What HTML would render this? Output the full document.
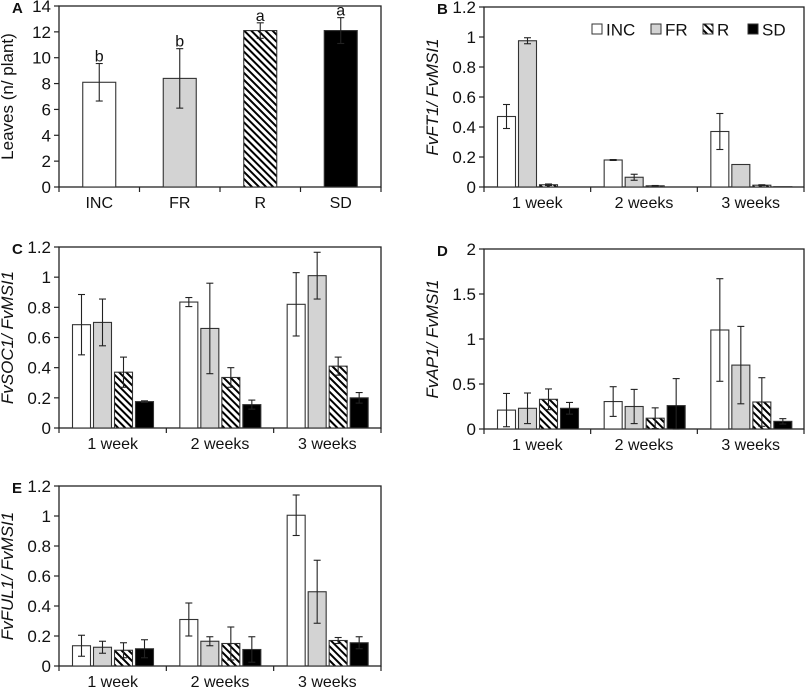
<!DOCTYPE html>
<html><head><meta charset="utf-8"><style>
body{margin:0;background:#fff}
svg{display:block;font-family:"Liberation Sans",sans-serif}
</style></head><body>
<svg id="fig" width="808" height="688" viewBox="0 0 808 688">
<defs>
<pattern id="hatch" patternUnits="userSpaceOnUse" width="5" height="5" patternTransform="rotate(-45)">
<rect width="5" height="5" fill="#fff"/><rect x="0" y="0" width="2" height="5" fill="#000"/>
</pattern>
</defs>
</svg>
<script>
// Panel A
const catsA = ["INC","FR","R","SD"];
const valsA = [8.1, 8.4, 12.1, 12.1];
const errA = [1.45, 2.3, 0.6, 1.0];
const lettersA = ["b","b","a","a"];
const ticksA = [0,2,4,6,8,10,12,14];
// grouped panels
const groups = ["1 week","2 weeks","3 weeks"];
const series = ["INC","FR","R","SD"];
const valsB = [[0.47,0.975,0.015,0],[0.18,0.065,0.008,0],[0.37,0.15,0.012,0.002]];
const errB = [[0.08,0.02,0.005,0],[0.003,0.02,0.002,0],[0.12,0,0.003,0]];
const valsC = [[0.685,0.70,0.37,0.175],[0.835,0.66,0.335,0.155],[0.82,1.01,0.41,0.2]];
const errC = [[0.2,0.155,0.1,0.005],[0.03,0.3,0.065,0.03],[0.21,0.155,0.06,0.035]];
const valsD = [[0.21,0.23,0.33,0.23],[0.305,0.25,0.12,0.26],[1.1,0.71,0.30,0.085]];
const errD = [[0.185,0.17,0.115,0.065],[0.165,0.19,0.115,0.3],[0.57,0.43,0.27,0.03]];
const valsE = [[0.135,0.125,0.105,0.115],[0.31,0.165,0.15,0.11],[1.005,0.495,0.17,0.155]];
const errE = [[0.07,0.04,0.05,0.06],[0.11,0.03,0.11,0.085],[0.135,0.21,0.02,0.04]];
const ticks12 = [0,0.2,0.4,0.6,0.8,1,1.2];
const ticksD = [0,0.5,1,1.5,2];

const NS="http://www.w3.org/2000/svg";
const svg=document.getElementById('fig');
const fills=["#fff","#d3d3d3","url(#hatch)","#000"];
function mk(tag,attrs,parent){const e=document.createElementNS(NS,tag);for(const k in attrs)e.setAttribute(k,attrs[k]);(parent||svg).appendChild(e);return e;}
function txt(s,attrs,parent){const e=mk('text',attrs,parent);e.textContent=s;return e;}

function axes(g,x0,x1,y0,y1,ticks,ymax,ncat,catLabels,ylab,italic,letter){
  const ys=v=>y1-(v/ymax)*(y1-y0);
  const frame=mk('rect',{x:x0,y:y0,width:x1-x0,height:y1-y0,fill:'none',stroke:'#222','stroke-width':1.3},g);
  
  ticks.forEach(t=>{
    mk('line',{x1:x0-5,x2:x0,y1:ys(t),y2:ys(t),stroke:'#222','stroke-width':1.2},g);
    const l=txt(String(t),{x:x0-8,y:ys(t)+6,'text-anchor':'end','font-size':17,fill:'#111'},g);
    
  });
  const cw=(x1-x0)/ncat;
  for(let i=0;i<=ncat;i++) mk('line',{x1:x0+i*cw,x2:x0+i*cw,y1:y1,y2:y1+5,stroke:'#222','stroke-width':1.2},g);
  catLabels.forEach((c,i)=>{
    const l=txt(c,{x:x0+(i+0.5)*cw,y:y1+21,'text-anchor':'middle','font-size':16,fill:'#111'},g);
    
  });
  const cy=(y0+y1)/2, cx=x0-46;
  const yl=txt(ylab,{x:cx,y:cy,transform:`rotate(-90 ${cx} ${cy})`,'text-anchor':'middle','font-size':17,'font-style':italic?'italic':'normal',fill:'#111'},g);
  
  const lt=txt(letter,{x:x0-47,y:y0+7,'font-size':15,'font-weight':'bold',fill:'#111'},g);
  
  return ys;
}
function bar(g,x,w,v,e,ys,fill,name){
  const r=mk('rect',{x:x,y:ys(v),width:w,height:ys(0)-ys(v),fill:fill,stroke:'#333','stroke-width':1.1},g);
  
  if(e>0){
    const cx=x+w/2;
    const eg=mk('g',{stroke:'#222','stroke-width':1.1},g);
    
    mk('line',{x1:cx,x2:cx,y1:ys(v+e),y2:ys(Math.max(0,v-e))},eg);
    mk('line',{x1:cx-3.5,x2:cx+3.5,y1:ys(v+e),y2:ys(v+e)},eg);
    mk('line',{x1:cx-3.5,x2:cx+3.5,y1:ys(Math.max(0,v-e)),y2:ys(Math.max(0,v-e))},eg);
  }
}
// Panel A
(function(){
  const g=mk('g',{});
  const x0=59,x1=381,y0=6,y1=187;
  const ys=axes(g,x0,x1,y0,y1,ticksA,14,4,catsA,'Leaves (n/ plant)',false,'A');
  const cw=(x1-x0)/4;
  valsA.forEach((v,i)=>{
    const bx=x0+i*cw+(cw-33)/2;
    bar(g,bx,33,v,errA[i],ys,fills[i],'bar-'+catsA[i].toLowerCase());
    const l=txt(lettersA[i],{x:bx+16.5,y:ys(v+errA[i])-2,'text-anchor':'middle','font-size':16,fill:'#111'},g);
    
  });
})();
function grouped(name,x0,x1,y0,y1,ticks,ymax,vals,errs,ylab,letter){
  const g=mk('g',{});
  const ys=axes(g,x0,x1,y0,y1,ticks,ymax,3,groups,ylab,true,letter);
  const cw=(x1-x0)/3;
  vals.forEach((grp,gi)=>grp.forEach((v,si)=>{
    const bx=x0+gi*cw+13.5+si*21;
    bar(g,bx,18,v,errs[gi][si],ys,fills[si],'bar-'+series[si].toLowerCase()+'-week'+(gi+1));
  }));
  return g;
}
const gB=grouped('panel-b-fvft1',484,804,7,187,ticks12,1.2,valsB,errB,'FvFT1/ FvMSI1','B');
grouped('panel-c-fvsoc1',59,381,247,428,ticks12,1.2,valsC,errC,'FvSOC1/ FvMSI1','C');
grouped('panel-d-fvap1',484,804,249,429,ticksD,2,valsD,errD,'FvAP1/  FvMSI1','D');
grouped('panel-e-fvful1',59,381,486,666,ticks12,1.2,valsE,errE,'FvFUL1/ FvMSI1','E');
// legend
(function(){
  const lg=mk('g',{},gB);
  const lx=[592,651,703,748];
  series.forEach((s,i)=>{
    const eg=mk('g',{},lg);
    mk('rect',{x:lx[i],y:24,width:10,height:10,fill:fills[i],stroke:'#333','stroke-width':1},eg);
    txt(s,{x:lx[i]+14,y:35.5,'font-size':17,fill:'#111'},eg);
  });
})();
</script>
</body></html>
